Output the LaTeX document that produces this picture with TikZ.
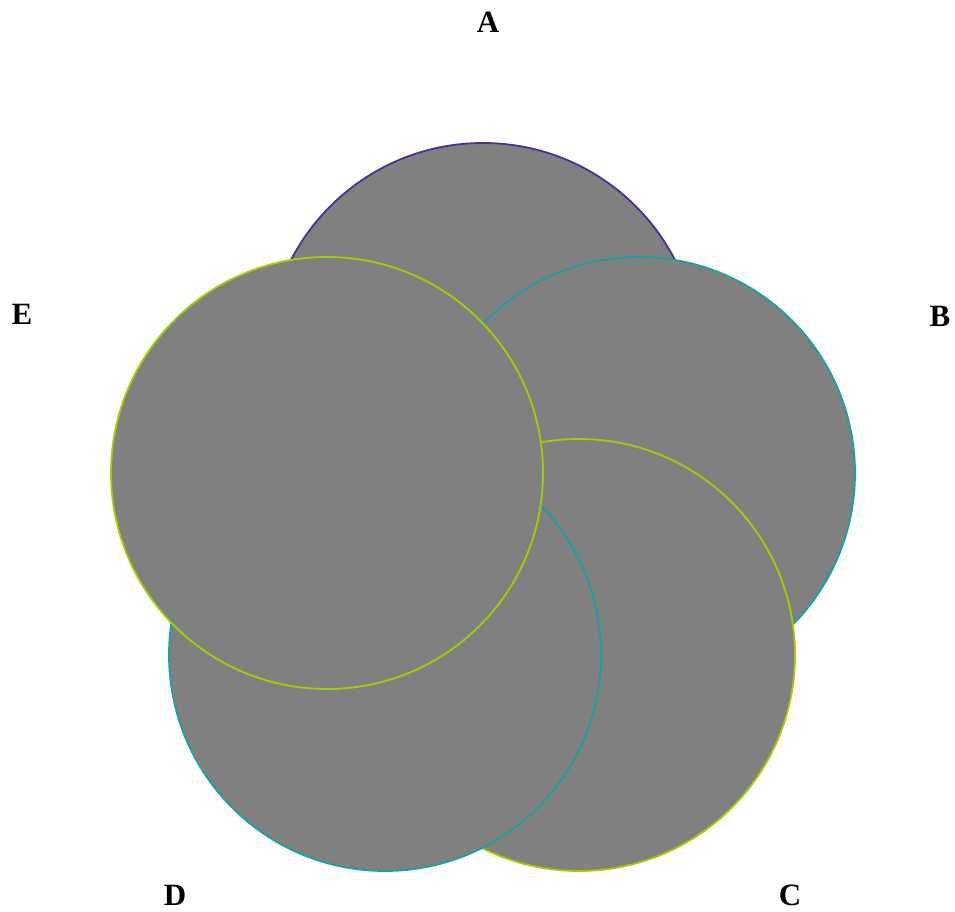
\documentclass[tikz,border=0pt]{standalone}
\usepackage{fontspec}
\setmainfont{Liberation Serif}
\usepackage{tikz}
\usetikzlibrary{positioning}
\definecolor{setblue}{RGB}{60,55,150}
\definecolor{setteal}{RGB}{25,160,160}
\definecolor{setlime}{RGB}{160,208,0}
\tikzset{
  x=1pt,y=1pt,
  vset/.style={circle,fill=gray,draw=#1,line width=1.8pt,
    minimum size=432pt,inner sep=0pt},
  vlbl/.style={font=\fontsize{31}{36}\selectfont\bfseries,inner sep=0pt},
}
\begin{document}
\begin{tikzpicture}
  \useasboundingbox (0,0) rectangle (955,911);
  \node[vset=setblue] (setA) at (483,552) {};
  \node[vset=setteal] (setB) at (639,438) {};
  \node[vset=setlime] (setC) at (579,256) {};
  \node[vset=setteal] (setD) at (385,256) {};
  \node[vset=setlime] (setE) at (327,438) {};
  \node[vlbl] (lblA) at (488,889) {A};
  \node[vlbl] (lblB) at (940,595) {B};
  \node[vlbl] (lblC) at (790,16) {C};
  \node[vlbl] (lblD) at (175,16) {D};
  \node[vlbl] (lblE) at (22,597) {E};
\end{tikzpicture}
\end{document}
